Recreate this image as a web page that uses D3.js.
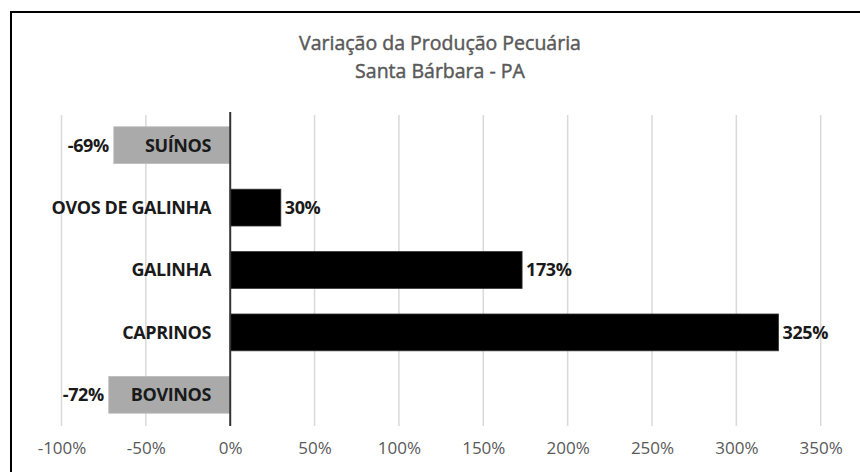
<!DOCTYPE html>
<html><head><meta charset="utf-8">
<script src="https://cdn.jsdelivr.net/npm/d3@7"></script>
<style>body{margin:0;background:#fff;} svg{display:block;}</style>
</head><body>
<script>
const categories = ["SUÍNOS", "OVOS DE GALINHA", "GALINHA", "CAPRINOS", "BOVINOS"];
const values = [-69, 30, 173, 325, -72];
const tickValues = [-100, -50, 0, 50, 100, 150, 200, 250, 300, 350];
const titleLines = ["Variação da Produção Pecuária", "Santa Bárbara - PA"];

const W = 860, H = 472;
const svg = d3.select("body").append("svg").attr("width", W).attr("height", H);
svg.append("rect").attr("width", W).attr("height", H).attr("fill", "#fff");
svg.append("line").attr("x1", 11).attr("x2", W).attr("y1", 12).attr("y2", 12).attr("stroke", "#000").attr("stroke-width", 2);
svg.append("line").attr("x1", 11).attr("x2", 11).attr("y1", 11).attr("y2", H).attr("stroke", "#000").attr("stroke-width", 2);

const x = d3.scaleLinear().domain([-100, 350]).range([61.5, 820.7]);
const y = d3.scaleBand().domain(categories).range([114, 426]).paddingInner(0.41).paddingOuter(0.205);

const font = "'Open Sans', sans-serif";
svg.append("g").selectAll("text").data(titleLines).join("text")
  .attr("x", 440).attr("y", (d, i) => 50 + i * 28)
  .attr("text-anchor", "middle").attr("fill", "#595959")
  .attr("stroke", "#595959").attr("stroke-width", 0.45)
  .style("font-family", font).style("font-size", "19.5px")
  .text(d => d);

svg.append("g").selectAll("line").data(tickValues.filter(d => d !== 0)).join("line")
  .attr("x1", d => x(d)).attr("x2", d => x(d)).attr("y1", 115).attr("y2", 426)
  .attr("stroke", "#d9d9d9").attr("stroke-width", 1.5);

svg.append("g").selectAll("rect").data(categories).join("rect")
  .attr("x", (d, i) => Math.min(x(0), x(values[i])))
  .attr("width", (d, i) => Math.abs(x(values[i]) - x(0)))
  .attr("y", d => y(d)).attr("height", y.bandwidth())
  .attr("fill", (d, i) => values[i] < 0 ? "#aaaaaa" : "#000")
  .attr("stroke", (d, i) => values[i] < 0 ? "#bdbdbd" : "#333").attr("stroke-width", 0.8);

svg.append("line").attr("x1", x(0)).attr("x2", x(0)).attr("y1", 112).attr("y2", 426)
  .attr("stroke", "#333").attr("stroke-width", 2);

svg.append("g").selectAll("text").data(categories).join("text")
  .attr("x", 211).attr("y", d => y(d) + y.bandwidth() / 2).attr("dy", "0.36em")
  .attr("text-anchor", "end").attr("fill", "#1a1a1a")
  .style("font-family", font).style("font-size", "18px").style("font-weight", "bold")
  .style("letter-spacing", "-0.4px")
  .text(d => d);

svg.append("g").selectAll("text").data(categories).join("text")
  .attr("x", (d, i) => values[i] < 0 ? x(values[i]) - 5 : x(values[i]) + 4)
  .attr("y", d => y(d) + y.bandwidth() / 2).attr("dy", "0.36em")
  .attr("text-anchor", (d, i) => values[i] < 0 ? "end" : "start").attr("fill", "#1a1a1a")
  .style("font-family", font).style("font-size", "18px").style("font-weight", "bold")
  .style("letter-spacing", "-0.4px")
  .text((d, i) => values[i] + "%");

const axis = d3.axisBottom(x).tickValues(tickValues).tickSize(0).tickPadding(0).tickFormat(d => d + "%");
const gx = svg.append("g").attr("transform", "translate(0,442)").call(axis);
gx.select(".domain").remove();
gx.selectAll("text").attr("fill", "#595959").attr("dy", "0.71em")
  .style("font-family", font).style("font-size", "17px");
</script>
</body></html>
